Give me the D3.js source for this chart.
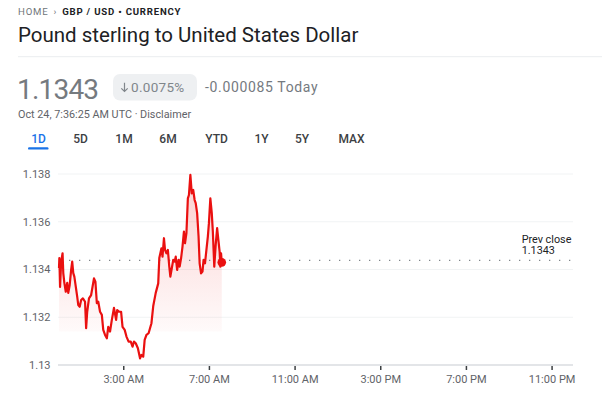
<!DOCTYPE html>
<html>
<head>
<meta charset="utf-8">
<script src="https://cdnjs.cloudflare.com/ajax/libs/d3/7.8.5/d3.min.js"></script>
<style>
  body { margin: 0; background: #fff; }
  svg { font-family: Roboto, Arial, sans-serif; display: block; }
</style>
</head>
<body>
<div id="vis"></div>
<script>
// intraday GBP/USD, minutes after midnight UTC and rate
var times = [0, 1, 3, 6, 10, 12, 15, 19, 23, 26, 30, 34, 37, 40, 43, 47, 51, 54, 58, 62, 67, 73, 76, 79, 84, 90, 94, 98,
    102, 106, 110, 115, 120, 124, 129, 134, 138, 143, 148, 154, 160, 163, 169, 174, 178, 184, 189, 195, 201, 206, 210,
    215, 221, 227, 231, 236, 240, 245, 251, 255, 259, 264, 271, 278, 281, 287, 290, 294, 297, 301, 305, 309, 312, 316,
    320, 324, 327, 331, 335, 338, 342, 346, 350, 353, 357, 361, 364, 368, 372, 376, 380, 383, 387, 391, 394, 398, 402,
    405, 409, 413, 417, 420, 424, 428, 431, 435, 439, 443, 447, 450, 452, 454, 456];
var rates = [1.13406, 1.13448, 1.13327, 1.13432, 1.13468, 1.13385, 1.13344, 1.13307, 1.13344, 1.13302, 1.13335, 1.13398,
    1.13433, 1.13385, 1.13370, 1.13328, 1.13286, 1.13251, 1.13244, 1.13272, 1.13279, 1.13265, 1.13154, 1.13223, 1.13279,
    1.13293, 1.13328, 1.13363, 1.13349, 1.13259, 1.13265, 1.13223, 1.13210, 1.13147, 1.13126, 1.13112, 1.13160, 1.13140,
    1.13189, 1.13239, 1.13189, 1.13230, 1.13223, 1.13223, 1.13160, 1.13147, 1.13119, 1.13098, 1.13098, 1.13077, 1.13098,
    1.13091, 1.13070, 1.13028, 1.13042, 1.13035, 1.13105, 1.13126, 1.13133, 1.13154, 1.13175, 1.13247, 1.13302, 1.13342,
    1.13448, 1.13489, 1.13454, 1.13531, 1.13482, 1.13468, 1.13482, 1.13412, 1.13370, 1.13405, 1.13440, 1.13433, 1.13454,
    1.13398, 1.13440, 1.13412, 1.13447, 1.13496, 1.13559, 1.13510, 1.13552, 1.13698, 1.13712, 1.13796, 1.13719, 1.13733,
    1.13691, 1.13678, 1.13636, 1.13538, 1.13426, 1.13384, 1.13391, 1.13440, 1.13426, 1.13482, 1.13538, 1.13594, 1.13698,
    1.13636, 1.13559, 1.13412, 1.13503, 1.13573, 1.13517, 1.13475, 1.13412, 1.13468, 1.13430];
var prevClose = 1.134385;
var yTicks = [1.13, 1.132, 1.134, 1.136, 1.138];
var yTickLabels = ['1.13', '1.132', '1.134', '1.136', '1.138'];
var xTicks = [180, 420, 660, 900, 1140, 1380];
var xTickLabels = ['3:00 AM', '7:00 AM', '11:00 AM', '3:00 PM', '7:00 PM', '11:00 PM'];
var tabs = ['1D', '5D', '1M', '6M', 'YTD', '1Y', '5Y', 'MAX'];
var tabCenters = [38.5, 80.5, 124, 168, 216.5, 261.5, 302, 351.5];

var width = 602, height = 400;
var margin = { left: 59, right: 29, top: 174, bottom: 35 };
var plotBottom = height - margin.bottom;
var red = '#ea1010';

var data = times.map(function(t, i) { return { t: t, v: rates[i] }; });

var svg = d3.select('#vis').append('svg')
    .attr('width', width)
    .attr('height', height);

// header
var crumb = svg.append('text').attr('x', 18).attr('y', 14.7)
    .attr('font-size', 9.6).attr('letter-spacing', 0.8);
crumb.append('tspan').attr('fill', '#70757a').text('HOME');
crumb.append('tspan').attr('fill', '#70757a').attr('dx', 5).text('›');
crumb.append('tspan').attr('fill', '#202124').attr('font-weight', 700).attr('dx', 5).text('GBP / USD • CURRENCY');

svg.append('text').attr('x', 18).attr('y', 41.5)
    .attr('font-size', 20.5).attr('fill', '#202124')
    .text('Pound sterling to United States Dollar');

svg.append('line').attr('x1', 18).attr('x2', width).attr('y1', 56.7).attr('y2', 56.7)
    .attr('stroke', '#ebedef').attr('stroke-width', 1);

svg.append('text').attr('x', 17).attr('y', 98.5)
    .attr('font-size', 28).attr('fill', '#757a7f').attr('letter-spacing', -0.8)
    .text('1.1343');

// change badge
svg.append('rect').attr('x', 113).attr('y', 74).attr('width', 84).attr('height', 26.5)
    .attr('rx', 7).attr('fill', '#eef0f2');
svg.append('path')
    .attr('d', 'M124.5,82.8V91.5M121.3,88.3L124.5,91.5L127.7,88.3')
    .attr('fill', 'none').attr('stroke', '#80868b').attr('stroke-width', 1.2);
svg.append('text').attr('x', 131).attr('y', 92).attr('font-size', 13.5).attr('fill', '#80868b')
    .attr('letter-spacing', 0.3)
    .text('0.0075%');
svg.append('text').attr('x', 205).attr('y', 92).attr('font-size', 14).attr('fill', '#757a7f')
    .attr('letter-spacing', 0.65)
    .text('-0.000085 Today');

svg.append('text').attr('x', 18).attr('y', 117.5).attr('font-size', 10.8).attr('fill', '#5f6368')
    .text('Oct 24, 7:36:25 AM UTC · Disclaimer');

// range tabs
svg.selectAll('.tab').data(tabs).enter().append('text')
    .attr('class', 'tab')
    .attr('x', function(d, i) { return tabCenters[i]; })
    .attr('y', 143.3)
    .attr('text-anchor', 'middle')
    .attr('font-size', 12)
    .attr('font-weight', 500)
    .attr('fill', function(d, i) { return i === 0 ? '#1a73e8' : '#3c4043'; })
    .text(function(d) { return d; });
svg.append('rect').attr('x', 28).attr('y', 147.2).attr('width', 20.5).attr('height', 2.4)
    .attr('rx', 1.2).attr('fill', '#1a73e8');

// scales
var xScale = d3.scaleLinear().domain([0, 1440]).range([margin.left, width - margin.right]);
var yScale = d3.scaleLinear().domain([1.13, 1.138]).range([plotBottom, margin.top]);

var g = svg.append('g');

// gridlines
g.selectAll('.grid').data(yTicks.slice(1)).enter().append('line')
    .attr('x1', xScale(0) - 1).attr('x2', xScale(1440))
    .attr('y1', function(d) { return yScale(d); })
    .attr('y2', function(d) { return yScale(d); })
    .attr('stroke', '#f1f3f4').attr('stroke-width', 1);

// y labels
g.selectAll('.ylab').data(yTicks).enter().append('text')
    .attr('x', 50.5)
    .attr('y', function(d) { return yScale(d); })
    .attr('dy', '0.35em')
    .attr('text-anchor', 'end')
    .attr('font-size', 11)
    .attr('fill', '#5f6368')
    .text(function(d, i) { return yTickLabels[i]; });

// x axis
var xAxis = d3.axisBottom(xScale)
    .tickValues(xTicks)
    .tickSize(5)
    .tickPadding(5)
    .tickFormat(function(d, i) { return xTickLabels[i]; });
var xg = svg.append('g')
    .attr('transform', 'translate(0,' + plotBottom + ')')
    .call(xAxis);
xg.select('.domain').attr('stroke', '#dadce0').attr('stroke-width', 1.6)
    .attr('d', 'M' + (xScale(0) - 1) + ',0H' + xScale(1440));
xg.selectAll('.tick line').attr('stroke', '#3c4043').attr('stroke-width', 1.5).attr('y1', 1);
xg.selectAll('.tick text').attr('font-size', 11).attr('fill', '#5f6368')
    .attr('font-family', 'Roboto, Arial, sans-serif');

// area fill
var floorVal = 1.1314;
var grad = svg.append('defs').append('linearGradient')
    .attr('id', 'fill').attr('gradientUnits', 'userSpaceOnUse')
    .attr('x1', 0).attr('x2', 0)
    .attr('y1', yScale(1.138)).attr('y2', yScale(floorVal));
grad.append('stop').attr('offset', 0).attr('stop-color', red).attr('stop-opacity', 0.2);
grad.append('stop').attr('offset', 1).attr('stop-color', red).attr('stop-opacity', 0.02);

var area = d3.area()
    .x(function(d) { return xScale(d.t); })
    .y0(function(d) { return yScale(Math.min(floorVal, d.v)); })
    .y1(function(d) { return yScale(d.v); });
g.append('path').datum(data).attr('d', area).attr('fill', 'url(#fill)');

// previous close
g.append('line')
    .attr('x1', xScale(0)).attr('x2', xScale(1440))
    .attr('y1', yScale(prevClose)).attr('y2', yScale(prevClose))
    .attr('stroke', '#80868b').attr('stroke-width', 1.3)
    .attr('stroke-dasharray', '1.3,8.7');
g.append('text').attr('x', 521.7).attr('y', 242.7).attr('font-size', 10.8).attr('fill', '#202124')
    .text('Prev close');
g.append('text').attr('x', 521.7).attr('y', 254.3).attr('font-size', 10.8).attr('fill', '#202124')
    .text('1.1343');

// price line
var line = d3.line()
    .x(function(d) { return xScale(d.t); })
    .y(function(d) { return yScale(d.v); });
g.append('path').datum(data).attr('d', line)
    .attr('fill', 'none').attr('stroke', red).attr('stroke-width', 2.2)
    .attr('stroke-linejoin', 'round');

var last = data[data.length - 1];
g.append('circle').attr('cx', xScale(last.t)).attr('cy', yScale(last.v)).attr('r', 4.3)
    .attr('fill', red);
</script>
</body>
</html>
